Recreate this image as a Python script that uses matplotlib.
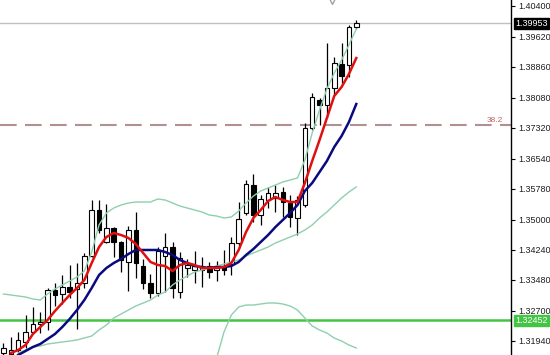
import matplotlib
matplotlib.use('Agg')
import matplotlib.pyplot as plt
import numpy as np

# candles
opens = [1.31629, 1.31604, 1.31705, 1.31907, 1.32160, 1.32362, 1.32412, 1.33220, 1.33119, 1.33296,
         1.33246, 1.33397, 1.34079, 1.35241, 1.34433, 1.34786, 1.34433, 1.33928, 1.34736, 1.33826,
         1.33397, 1.33145, 1.34079, 1.34306, 1.33170, 1.33776, 1.33725, 1.33725, 1.33826, 1.33725,
         1.33801, 1.33877, 1.34407, 1.35165, 1.35872, 1.35114, 1.35493, 1.35544, 1.35695, 1.35417,
         1.35039, 1.35367, 1.37312, 1.38019, 1.37892, 1.38322, 1.38928, 1.38903, 1.39862]
highs = [1.31882, 1.32033, 1.32160, 1.32589, 1.32791, 1.32665, 1.33271, 1.33397, 1.33599, 1.33852,
         1.33902, 1.34155, 1.35493, 1.35493, 1.35392, 1.34811, 1.34458, 1.34837, 1.35190, 1.34003,
         1.33624, 1.34306, 1.34660, 1.34433, 1.34180, 1.34003, 1.34205, 1.34054, 1.33928, 1.33953,
         1.34231, 1.34559, 1.35443, 1.35998, 1.36150, 1.35620, 1.35822, 1.35872, 1.35822, 1.35620,
         1.35594, 1.37438, 1.38195, 1.38069, 1.39458, 1.39105, 1.39458, 1.39913, 1.40039]
lows = [1.31560, 1.31560, 1.31629, 1.31756, 1.32134, 1.32134, 1.32210, 1.32816, 1.32867, 1.33018,
        1.32235, 1.33271, 1.34054, 1.34660, 1.34407, 1.34054, 1.33675, 1.33195, 1.33523, 1.33246,
        1.33018, 1.33069, 1.33170, 1.33018, 1.33018, 1.33549, 1.33397, 1.33296, 1.33523, 1.33448,
        1.33599, 1.33599, 1.34281, 1.35114, 1.34938, 1.34862, 1.35291, 1.35190, 1.35064, 1.34811,
        1.34609, 1.35316, 1.37261, 1.37387, 1.37564, 1.38145, 1.38448, 1.38599, 1.39812]
closes = [1.31756, 1.31705, 1.31958, 1.32160, 1.32362, 1.32412, 1.33220, 1.33094, 1.33296, 1.33170,
          1.33397, 1.34079, 1.35241, 1.34736, 1.34786, 1.34433, 1.33978, 1.34736, 1.33902, 1.33397,
          1.33145, 1.34205, 1.34306, 1.33271, 1.34029, 1.33852, 1.33826, 1.33801, 1.33675, 1.33801,
          1.33725, 1.34407, 1.35013, 1.35897, 1.35114, 1.35519, 1.35670, 1.35670, 1.35443, 1.35064,
          1.35493, 1.37312, 1.38094, 1.37892, 1.38322, 1.38953, 1.38625, 1.39862, 1.39953]

# indicator lines (NaN where not drawn)
red_ma = [np.nan, 1.31629, 1.31705, 1.31831, 1.32109, 1.32286, 1.32463, 1.32690, 1.32892, 1.33094,
          1.33271, 1.33473, 1.33902, 1.34306, 1.34559, 1.34660, 1.34609, 1.34534, 1.34382, 1.34155,
          1.33928, 1.33852, 1.33826, 1.33700, 1.33852, 1.33902, 1.33852, 1.33776, 1.33776, 1.33776,
          1.33801, 1.33902, 1.34231, 1.34685, 1.35039, 1.35241, 1.35468, 1.35569, 1.35493, 1.35443,
          1.35443, 1.35923, 1.36478, 1.37008, 1.37564, 1.38120, 1.38347, 1.38675, 1.39079]
blue_ma = [np.nan, np.nan, 1.31579, 1.31680, 1.31781, 1.31857, 1.31983, 1.32109, 1.32286, 1.32488,
           1.32715, 1.32968, 1.33271, 1.33599, 1.33776, 1.33902, 1.34003, 1.34130, 1.34231, 1.34231,
           1.34231, 1.34231, 1.34180, 1.34104, 1.33978, 1.33902, 1.33826, 1.33801, 1.33776, 1.33801,
           1.33801, 1.33826, 1.33928, 1.34104, 1.34256, 1.34433, 1.34609, 1.34811, 1.34988, 1.35165,
           1.35367, 1.35721, 1.35923, 1.36200, 1.36478, 1.36832, 1.37110, 1.37463, 1.37918]
band_up = [1.33119, 1.33094, 1.33069, 1.33044, 1.32993, 1.32968, 1.33119, 1.33246, 1.33347, 1.33448,
           1.33549, 1.33700, 1.34180, 1.34862, 1.35165, 1.35291, 1.35367, 1.35417, 1.35443, 1.35443,
           1.35443, 1.35519, 1.35493, 1.35417, 1.35342, 1.35291, 1.35241, 1.35190, 1.35114, 1.35089,
           1.35039, 1.35064, 1.35215, 1.35417, 1.35594, 1.35721, 1.35796, 1.35872, 1.35948, 1.35998,
           1.36049, 1.36503, 1.37185, 1.37766, 1.38296, 1.38700, 1.39029, 1.39408, 1.39812]
band_low = [np.nan, np.nan, 1.31629, 1.31705, 1.31781, 1.31806, 1.31857, 1.31882, 1.31907, 1.31932,
            1.31958, 1.32008, 1.32059, 1.32210, 1.32336, 1.32513, 1.32614, 1.32715, 1.32816, 1.32892,
            1.32968, 1.33094, 1.33170, 1.33347, 1.33473, 1.33574, 1.33675, 1.33725, 1.33776, 1.33826,
            1.33877, 1.33928, 1.33978, 1.34079, 1.34155, 1.34231, 1.34306, 1.34407, 1.34483, 1.34559,
            1.34635, 1.34736, 1.34862, 1.35039, 1.35190, 1.35367, 1.35544, 1.35695, 1.35822]
band_low2 = [np.nan] * 29 + [1.31503, 1.32160, 1.32589, 1.32791, 1.32841, 1.32841, 1.32867, 1.32892,
                             1.32892, 1.32867, 1.32816, 1.32715, 1.32513, 1.32311, 1.32210, 1.32134,
                             1.32008, 1.31932, 1.31831, 1.31756]

price_ticks = [1.40400, 1.39620, 1.38860, 1.38080, 1.37320, 1.36540, 1.35780, 1.35000,
               1.34240, 1.33480, 1.32700, 1.31940]
last_price = 1.39953
support = 1.32452
fib_level = 1.37387
fib_label = '38.2'
fractal_idx = 44.7
fractal_price = 1.4052

o = np.array(opens)
c = np.array(closes)
x = np.arange(len(o))

fig = plt.figure(figsize=(5.5, 3.55), dpi=100)
ax = fig.add_axes([0, 0, 511 / 550, 1])

# lines behind the candles
ax.axhline(last_price, color='#c0c0c0', lw=1, zorder=1)
ax.axhline(fib_level, color='#b09090', lw=1.5, dashes=(8, 4), zorder=1)
ax.axhline(support, color='#44c444', lw=1.8, zorder=1)

# candles
ax.vlines(x, lows, highs, color='black', lw=0.9, zorder=2)
up = c >= o
bot = np.minimum(o, c)
hgt = np.maximum(np.abs(c - o), 0.00008)
ax.bar(x[up], hgt[up], bottom=bot[up], width=0.62, color='white', edgecolor='black', lw=0.8, zorder=3)
ax.bar(x[~up], hgt[~up], bottom=bot[~up], width=0.62, color='black', edgecolor='black', lw=0.8, zorder=3)

# indicators on top
ax.plot(x, band_up, color='#8fcfae', lw=1, zorder=4)
ax.plot(x, band_low, color='#8fcfae', lw=1, zorder=4)
ax.plot(x, band_low2, color='#8fcfae', lw=1, zorder=4)
ax.plot(x, blue_ma, color='#0a0a80', lw=1.8, zorder=5)
ax.plot(x, red_ma, color='#e01010', lw=1.8, zorder=6)

ax.plot([fractal_idx], [fractal_price], marker='v', ms=5, mfc='none', mec='#a0a0a0', zorder=6)

ax.set_xlim(-0.476, 69.05)
ax.set_ylim(1.31579, 1.40544)

for s in ['top', 'left', 'bottom']:
    ax.spines[s].set_visible(False)
ax.spines['right'].set_color('black')
ax.spines['right'].set_linewidth(1)
ax.set_xticks([])
ax.yaxis.tick_right()
ax.set_yticks(price_ticks)
ax.set_yticklabels(['%.5f' % p for p in price_ticks])
ax.tick_params(axis='y', length=3, width=0.8, pad=2, labelsize=6.5, colors='black')
for t in ax.get_yticklabels():
    t.set_family('Liberation Sans')
    t.set_color('#202020')

ax.text(0.985, fib_level + 0.0002, fib_label, transform=ax.get_yaxis_transform(),
        ha='right', va='bottom', fontsize=6, color='#c06060', family='Liberation Sans')

# price tags on the axis
ax.annotate('%.5f' % last_price, xy=(1, last_price), xycoords=('axes fraction', 'data'),
            xytext=(3, 0), textcoords='offset points', ha='left', va='center',
            fontsize=6.5, color='white', family='Liberation Sans',
            bbox=dict(boxstyle='square,pad=0.15', fc='black', ec='black'))
ax.annotate('%.5f' % support, xy=(1, support), xycoords=('axes fraction', 'data'),
            xytext=(3, 0), textcoords='offset points', ha='left', va='center',
            fontsize=6.5, color='white', family='Liberation Sans',
            bbox=dict(boxstyle='square,pad=0.15', fc='#44c444', ec='#44c444'))

fig.savefig('out.png', dpi=100)
